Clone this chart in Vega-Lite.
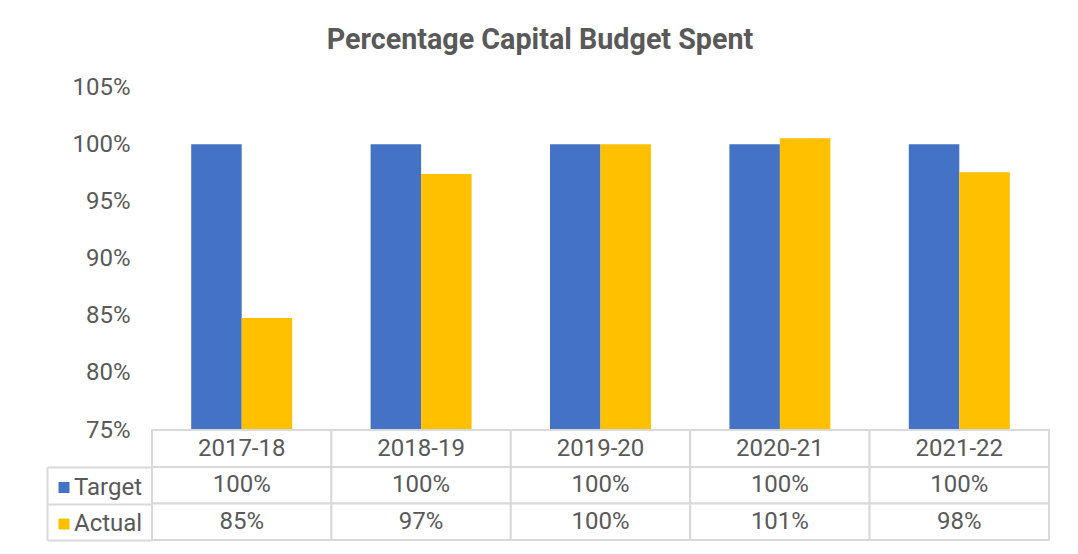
{
  "$schema": "https://vega.github.io/schema/vega-lite/v6.json",
  "padding": {"left": 46, "top": 26, "right": 5, "bottom": 5},
  "background": "white",
  "title": {"text": "Percentage Capital Budget Spent", "font": "Roboto", "fontSize": 28.7, "fontWeight": "bold", "color": "#595959", "anchor": "middle", "dx": -8, "offset": 20},
  "data": {"values": [
    {"year": "2017-18", "series": "Target", "value": 1.0},
    {"year": "2017-18", "series": "Actual", "value": 0.848},
    {"year": "2018-19", "series": "Target", "value": 1.0},
    {"year": "2018-19", "series": "Actual", "value": 0.974},
    {"year": "2019-20", "series": "Target", "value": 1.0},
    {"year": "2019-20", "series": "Actual", "value": 1.0},
    {"year": "2020-21", "series": "Target", "value": 1.0},
    {"year": "2020-21", "series": "Actual", "value": 1.0052},
    {"year": "2021-22", "series": "Target", "value": 1.0},
    {"year": "2021-22", "series": "Actual", "value": 0.9755}
  ]},
  "spacing": 0,
  "bounds": "flush",
  "resolve": {"scale": {"color": "independent", "x": "independent", "y": "independent"}, "legend": {"color": "independent"}},
  "vconcat": [
    {
      "width": 897,
      "height": 343,
      "mark": {"type": "bar", "clip": true},
      "encoding": {
        "x": {"field": "year", "type": "nominal", "scale": {"paddingInner": 0.437, "paddingOuter": 0.2185}, "axis": null},
        "xOffset": {"field": "series", "type": "nominal", "sort": ["Target", "Actual"]},
        "y": {"field": "value", "type": "quantitative", "scale": {"domain": [0.75, 1.05], "nice": false, "zero": false},
          "axis": {"values": [0.75, 0.8, 0.85, 0.9, 0.95, 1, 1.05], "format": ".0%", "labelFontSize": 24, "labelFont": "Roboto", "labelColor": "#595959", "labelPadding": 22, "domain": false, "ticks": false, "grid": false, "title": null}},
        "color": {"field": "series", "type": "nominal", "scale": {"domain": ["Target", "Actual"], "range": ["#4472C4", "#FFC000"]}, "legend": null}
      }
    },
    {
      "width": 897,
      "height": 37,
      "transform": [{"filter": "datum.series === 'Target'"}],
      "encoding": {"x": {"field": "year", "type": "nominal", "scale": {"paddingInner": 0, "paddingOuter": 0}, "axis": null}},
      "layer": [
        {"mark": {"type": "rect", "fill": "white", "stroke": "#D9D9D9", "strokeWidth": 2}},
        {"mark": {"type": "text", "fontSize": 24, "font": "Roboto", "color": "#595959"}, "encoding": {"text": {"field": "year"}}}
      ]
    },
    {
      "width": 897,
      "height": 73,
      "encoding": {
        "x": {"field": "year", "type": "nominal", "scale": {"paddingInner": 0, "paddingOuter": 0}, "axis": null},
        "y": {"field": "series", "type": "nominal", "sort": ["Target", "Actual"], "scale": {"paddingInner": 0, "paddingOuter": 0},
          "axis": {"offset": 105, "labels": false, "title": null, "domainColor": "#D9D9D9", "domainWidth": 2, "tickBand": "extent", "tickSize": -105, "tickColor": "#D9D9D9", "tickWidth": 2, "grid": false}}
      },
      "layer": [
        {"mark": {"type": "rect", "fill": "white", "stroke": "#D9D9D9", "strokeWidth": 2}},
        {"mark": {"type": "text", "fontSize": 24, "font": "Roboto", "color": "#595959"}, "encoding": {"text": {"field": "value", "type": "quantitative", "format": ".0%"}}},
        {"mark": {"type": "square", "opacity": 0},
          "encoding": {"color": {"field": "series", "type": "nominal", "scale": {"domain": ["Target", "Actual"], "range": ["#4472C4", "#FFC000"]},
            "legend": {"orient": "none", "legendX": -100, "legendY": 8.5, "title": null, "symbolType": "square", "symbolSize": 121, "symbolOpacity": 1, "symbolStrokeWidth": 0, "labelFontSize": 24, "labelFont": "Roboto", "labelColor": "#595959", "labelOffset": -2, "rowPadding": 12.5, "padding": 0}}}}
      ]
    }
  ],
  "config": {"view": {"stroke": null}, "font": "Roboto"}
}
